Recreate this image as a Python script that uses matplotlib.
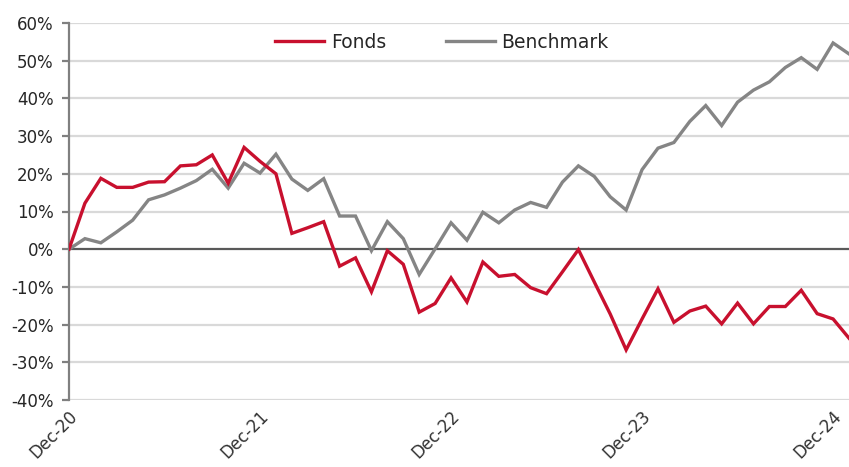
import matplotlib
matplotlib.use("Agg")
import matplotlib.pyplot as plt
import matplotlib.transforms as mtransforms
import numpy as np

# ---- data (cumulative performance, %) ----
tick_labels = ["Dec-20", "Dec-21", "Dec-22", "Dec-23", "Dec-24"]
tick_months = [0, 12, 24, 36, 48]

fonds = [0, 12.2, 18.8, 16.4, 16.4, 17.8, 17.9, 22.1, 22.4, 25.0, 17.5, 27.0,
         23.3, 20.0, 4.2, 5.7, 7.3, -4.5, -2.3, -11.3, -0.4, -4.0, -16.7, -14.4,
         -7.6, -14.0, -3.4, -7.2, -6.7, -10.2, -11.8, -6.0, -0.1, -8.7, -17.2, -26.7,
         -18.5, -10.5, -19.4, -16.4, -15.1, -19.8, -14.3, -19.8, -15.2, -15.2, -10.9, -17.1,
         -18.5, -23.6]

benchmark = [0, 2.8, 1.7, 4.6, 7.7, 13.1, 14.4, 16.2, 18.2, 21.2, 16.2, 22.8,
             20.2, 25.2, 18.6, 15.6, 18.7, 8.8, 8.8, -0.4, 7.3, 2.8, -6.7, 0.1,
             7.0, 2.4, 9.8, 7.0, 10.4, 12.4, 11.1, 17.8, 22.1, 19.3, 13.9, 10.4,
             21.1, 26.8, 28.3, 33.9, 38.1, 32.8, 39.0, 42.2, 44.4, 48.2, 50.8, 47.7,
             54.7, 51.8]

series_names = ["Fonds", "Benchmark"]

RED = "#C8102E"
GREY = "#858585"

fig = plt.figure(figsize=(8.49, 4.67), dpi=100)
ax = fig.add_axes([69 / 849, 1 - 400 / 467, 1 - 69 / 849, (400 - 23) / 467])

x = np.arange(len(fonds))

# gridlines
for v in range(-40, 61, 10):
    if v == 0:
        continue
    ax.axhline(v, color="#D9D9D9", lw=1.6, zorder=0)
ax.axhline(0, color="#595959", lw=1.6, zorder=1)

ax.plot(x, fonds, color=RED, lw=2.4, label=series_names[0], zorder=3,
        solid_joinstyle="miter")
ax.plot(x, benchmark, color=GREY, lw=2.4, label=series_names[1], zorder=2,
        solid_joinstyle="miter")

ax.set_xlim(0, 49)
ax.set_ylim(-40, 60)
ax.set_yticks(range(-40, 61, 10))
ax.set_yticklabels([f"{v}%" for v in range(-40, 61, 10)], fontsize=12, color="#262626")
ax.set_xticks(tick_months)
ax.set_xticklabels([])

# rotated x labels, placed below the axis
base = mtransforms.blended_transform_factory(ax.transData, ax.transAxes)
offset = mtransforms.ScaledTranslation(-1 / 100, -7 / 100, fig.dpi_scale_trans)
for m, lab in zip(tick_months, tick_labels):
    ax.text(m, 0, lab, transform=base + offset, rotation=45, ha="right", va="top",
            rotation_mode="anchor", fontsize=12, color="#333333", clip_on=False)

for s in ["top", "right", "bottom"]:
    ax.spines[s].set_visible(False)
ax.spines["left"].set_color("#808080")
ax.spines["left"].set_linewidth(1.6)
ax.tick_params(axis="y", length=5, width=1.6, color="#808080", pad=6)
ax.tick_params(axis="x", length=0)

leg = ax.legend(loc="center", bbox_to_anchor=((442 - 69) / 780, (400 - 42) / 377),
                ncol=2, frameon=False, fontsize=13.5, handlelength=2.6,
                columnspacing=3.2, handletextpad=0.35)
for t in leg.get_texts():
    t.set_color("#262626")

fig.savefig("out.png", dpi=100)
